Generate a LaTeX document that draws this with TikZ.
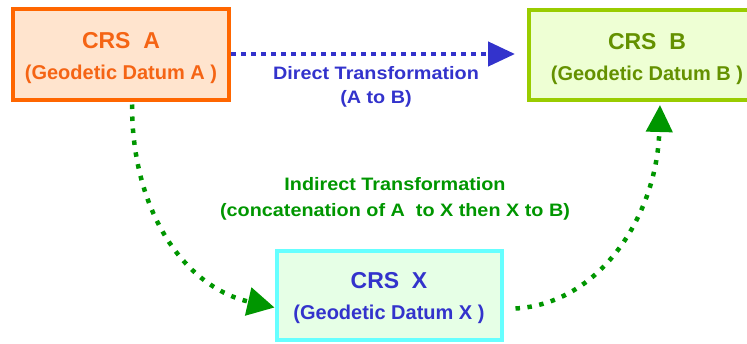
\documentclass[tikz,border=0pt]{standalone}
\usepackage{fontspec}
\setmainfont{Liberation Sans}
\newfontfamily\widefont{Liberation Sans}[FakeStretch=1.1]
\usetikzlibrary{arrows.meta}

\definecolor{aorange}{RGB}{255,102,0}
\definecolor{afill}{RGB}{255,228,206}
\definecolor{atext}{RGB}{245,100,20}
\definecolor{bgreen}{RGB}{153,204,0}
\definecolor{bfill}{RGB}{238,255,212}
\definecolor{btext}{RGB}{100,145,0}
\definecolor{xcyan}{RGB}{102,255,255}
\definecolor{xfill}{RGB}{230,255,230}
\definecolor{xblue}{RGB}{51,51,204}
\definecolor{dgreen}{RGB}{0,150,0}

\begin{document}
\begin{tikzpicture}[x=1pt,y=-1pt,
    crsbox/.style={draw, line width=4pt, align=center,
      font=\bfseries\fontsize{23}{31}\selectfont},
    trlabel/.style={align=center, inner sep=0pt,
      font=\widefont\bfseries\fontsize{18}{24}\selectfont},
    dots/.style={line width=4.5pt, line cap=butt}]
    \clip (0,0) rectangle (747,343);
    \node (crsA) [crsbox, draw=aorange, fill=afill, text=atext,
      minimum width=216pt, minimum height=91pt] at (121,54)
      {\rule{0pt}{25pt}CRS~~A\\{\fontsize{20}{31}\selectfont(Geodetic Datum A )}};
    \node (crsB) [crsbox, draw=bgreen, fill=bfill, text=btext,
      minimum width=236pt, minimum height=90pt] at (647,55)
      {\rule{0pt}{25pt}CRS~~B\\{\fontsize{20}{31}\selectfont(Geodetic Datum B )}};
    \node (crsX) [crsbox, draw=xcyan, fill=xfill, text=xblue,
      minimum width=225pt, minimum height=89pt] at (389,295.5)
      {\rule{0pt}{21pt}CRS~~X\\{\fontsize{20}{29}\selectfont(Geodetic Datum X )}};
    \node (direct) [trlabel, text=xblue] at (376,87)
      {Direct Transformation\\(A to B)};
    \node (indirect) [trlabel, text=dgreen, font=\widefont\bfseries\fontsize{18}{26}\selectfont] at (395,198.5)
      {Indirect Transformation\\(concatenation of A~~to X then X to B)};
    \draw [dots, xblue, dash pattern=on 4.5pt off 5.5pt,
      -{Triangle[length=27pt,width=24pt]}, shorten >=12pt]
      (crsA.east) -- (crsA.east -| crsB.west);
    \draw [dots, dgreen, dash pattern=on 4.5pt off 7.5pt,
      -{Triangle[length=27pt,width=28pt]}]
      ([xshift=11pt,yshift=-3pt]crsA.south) .. controls +(0,110) and +(-88,-20) .. ([yshift=-12pt]crsX.west);
    \draw [dots, dgreen, dash pattern=on 4.5pt off 7.5pt,
      -{Triangle[length=27pt,width=26pt]}]
      ([xshift=12pt,yshift=-13pt]crsX.east) .. controls +(85,-5) and +(-3,110) .. ([xshift=13pt,yshift=-3pt]crsB.south);
\end{tikzpicture}
\end{document}
